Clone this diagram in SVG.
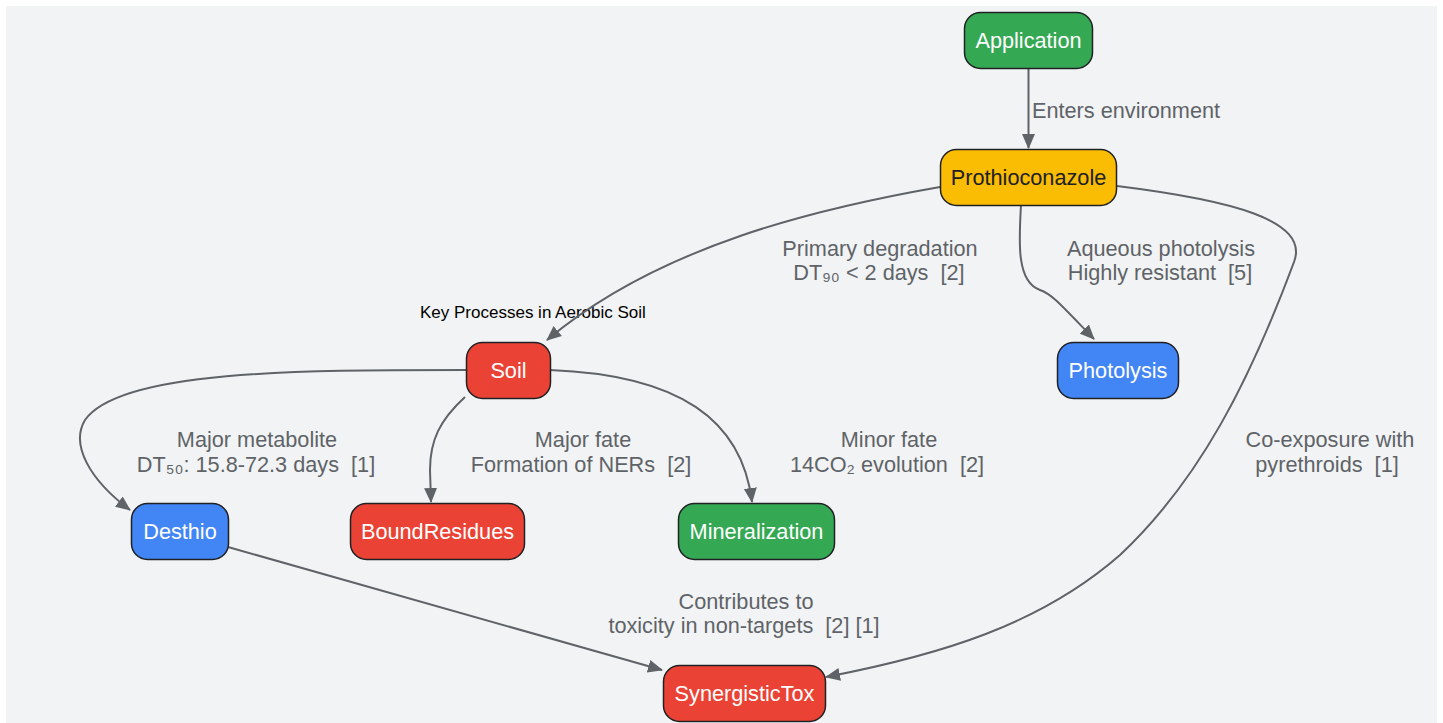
<svg xmlns="http://www.w3.org/2000/svg" width="1443" height="723" viewBox="0 0 1443 723">
<style>
.bg{fill:#f1f3f4}
.node rect{stroke:#202124;stroke-width:1.5}
.green rect{fill:#34a853}
.yellow rect{fill:#fbbc04}
.red rect{fill:#ea4335}
.blue rect{fill:#4285f4}
.node text{font-family:"Liberation Sans",Arial,sans-serif;font-size:21.7px;text-anchor:middle;fill:#ffffff}
.yellow text{fill:#202124}
.edge{fill:none;stroke:#5f6368;stroke-width:2}
.lbl{font-family:"Liberation Sans",Arial,sans-serif;font-size:21.7px;fill:#5f6368;text-anchor:middle;white-space:pre}
.title{font-family:"Liberation Sans",Arial,sans-serif;font-size:17px;fill:#000000}
</style>
<defs>
<marker id="arr" markerUnits="userSpaceOnUse" markerWidth="16" markerHeight="14" refX="14" refY="7" orient="auto">
<path d="M0,0.5 L15,7 L0,13.5 z" fill="#5f6368"/>
</marker>
</defs>
<rect x="0" y="0" width="1443" height="723" fill="#ffffff"/>
<rect class="bg" x="6" y="6" width="1431" height="717"/>
<text class="title" x="420" y="318">Key Processes in Aerobic Soil</text>
<g id="connectors">
<path class="edge" marker-end="url(#arr)" d="M1028.5,68 L1028.5,148"/>
<path class="edge" marker-end="url(#arr)" d="M940,187 C820,208 660,245 547,340"/>
<path class="edge" marker-end="url(#arr)" d="M1021,205 C1019,240 1016,282 1040,290 C1052,294 1062,306 1094,339"/>
<path class="edge" marker-end="url(#arr)" d="M1117,186 C1230,200 1310,220 1294,262 C1250,380 1200,480 1120,555 C1040,625 940,655 826,677"/>
<path class="edge" marker-end="url(#arr)" d="M228,547 L662,670"/>
<path class="edge" marker-end="url(#arr)" d="M466,370 C300,370 120,370 85,420 C70,445 90,480 130,510"/>
<path class="edge" marker-end="url(#arr)" d="M465,397 C440,420 430,440 430,470 L431,502"/>
<path class="edge" marker-end="url(#arr)" d="M550,370 C680,375 742,420 752,502"/>
</g>
<g id="edge-labels">
<text class="lbl" x="1032" y="118" style="text-anchor:start">Enters environment</text>
<text class="lbl" x="880" y="256">Primary degradation</text>
<text class="lbl" x="879" y="280" xml:space="preserve">DT₉₀ &lt; 2 days  [2]</text>
<text class="lbl" x="1161" y="256">Aqueous photolysis</text>
<text class="lbl" x="1160" y="280" xml:space="preserve">Highly resistant  [5]</text>
<text class="lbl" x="257" y="447">Major metabolite</text>
<text class="lbl" x="256" y="472" xml:space="preserve">DT₅₀: 15.8-72.3 days  [1]</text>
<text class="lbl" x="583" y="447">Major fate</text>
<text class="lbl" x="581" y="472" xml:space="preserve">Formation of NERs  [2]</text>
<text class="lbl" x="889" y="447">Minor fate</text>
<text class="lbl" x="887" y="472" xml:space="preserve">14CO₂ evolution  [2]</text>
<text class="lbl" x="1330" y="447">Co-exposure with</text>
<text class="lbl" x="1327" y="472" xml:space="preserve">pyrethroids  [1]</text>
<text class="lbl" x="746" y="609">Contributes to</text>
<text class="lbl" x="744" y="633" xml:space="preserve">toxicity in non-targets  [2] [1]</text>
</g>
<g id="Application" class="node green"><rect x="964.5" y="12.5" width="128" height="56" rx="16"/><text x="1028.5" y="48">Application</text></g>
<g id="Prothioconazole" class="node yellow"><rect x="940.5" y="149.5" width="176" height="56" rx="16"/><text x="1028.5" y="185">Prothioconazole</text></g>
<g id="Soil" class="node red"><rect x="466.5" y="342.5" width="84" height="56" rx="16"/><text x="508.5" y="378">Soil</text></g>
<g id="Photolysis" class="node blue"><rect x="1057.5" y="342.5" width="121" height="56" rx="16"/><text x="1118" y="378">Photolysis</text></g>
<g id="Desthio" class="node blue"><rect x="131.5" y="503.5" width="97" height="56" rx="16"/><text x="180" y="539">Desthio</text></g>
<g id="BoundResidues" class="node red"><rect x="350.5" y="503.5" width="174" height="56" rx="16"/><text x="437.5" y="539">BoundResidues</text></g>
<g id="Mineralization" class="node green"><rect x="678.5" y="503.5" width="156" height="56" rx="16"/><text x="756.5" y="539">Mineralization</text></g>
<g id="SynergisticTox" class="node red"><rect x="663.5" y="665.5" width="162" height="56" rx="16"/><text x="744.5" y="701">SynergisticTox</text></g>
</svg>
